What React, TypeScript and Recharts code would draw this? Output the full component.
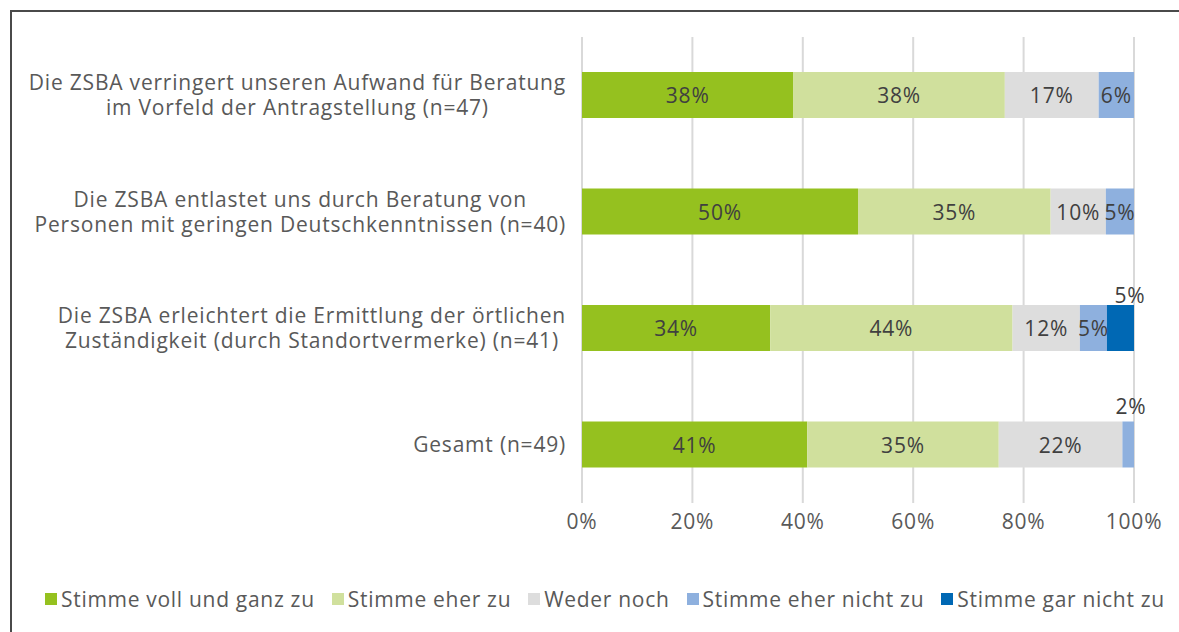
import { BarChart, Bar, XAxis, YAxis, CartesianGrid, LabelList } from 'recharts';

const categories = [
  'Die ZSBA verringert unseren Aufwand für Beratung\nim Vorfeld der Antragstellung (n=47)',
  'Die ZSBA entlastet uns durch Beratung von\nPersonen mit geringen Deutschkenntnissen (n=40)',
  'Die ZSBA erleichtert die Ermittlung der örtlichen\nZuständigkeit (durch Standortvermerke) (n=41)',
  'Gesamt (n=49)',
];

const vollZu = [38.3, 50.0, 34.1, 40.8];
const eherZu = [38.3, 34.9, 43.9, 34.7];
const wederNoch = [17.0, 10.0, 12.2, 22.4];
const eherNicht = [6.4, 5.1, 4.9, 2.1];
const garNicht = [0, 0, 4.9, 0];

const xTicks = [0, 20, 40, 60, 80, 100];

const series = [
  { key: 'vollZu', name: 'Stimme voll und ganz zu', color: '#95C11F' },
  { key: 'eherZu', name: 'Stimme eher zu', color: '#D0E09D' },
  { key: 'wederNoch', name: 'Weder noch', color: '#DDDDDD' },
  { key: 'eherNicht', name: 'Stimme eher nicht zu', color: '#8EB0DE' },
  { key: 'garNicht', name: 'Stimme gar nicht zu', color: '#0068B4' },
];

const data = categories.map((name, i) => ({
  name,
  vollZu: vollZu[i],
  eherZu: eherZu[i],
  wederNoch: wederNoch[i],
  eherNicht: eherNicht[i],
  garNicht: garNicht[i],
}));

const FONT = '"Open Sans", "Noto Sans", sans-serif';
const TEXT = '#595959';
const FS = 21;
const LS = 0.8;

function CategoryTick({ x, y, payload }: any) {
  return (
    <foreignObject x={x - 570} y={y - 30} width={570} height={60}>
      <div
        style={{
          width: 570,
          height: 60,
          display: 'flex',
          alignItems: 'center',
          justifyContent: 'flex-end',
        }}
      >
        <div
          style={{
            whiteSpace: 'pre-line',
            textAlign: 'center',
            fontFamily: FONT,
            fontSize: FS,
            letterSpacing: LS,
            lineHeight: '25px',
            color: TEXT,
          }}
        >
          {payload.value}
        </div>
      </div>
    </foreignObject>
  );
}

// small or last segments get their label above the bar end, like the original
function makeLabel(seriesKey: string) {
  return (props: any) => {
    const { x, y, width, height, value } = props;
    if (!value) return null;
    let cx = x + width / 2;
    let cy = y + height / 2;
    if (seriesKey === 'garNicht') {
      cx = x + width - 4;
      cy = y - 10;
    } else if (value < 3) {
      cx = x + width - 3;
      cy = y - 16;
    }
    return (
      <text
        x={cx}
        y={cy}
        textAnchor="middle"
        dominantBaseline="central"
        fontFamily={FONT}
        fontSize={FS}
        letterSpacing={LS}
        fill="#404040"
      >
        {Math.round(value)}%
      </text>
    );
  };
}

function XTick({ x, y, payload }: any) {
  return (
    <text
      x={x}
      y={y}
      dy="0.75em"
      textAnchor="middle"
      fontFamily={FONT}
      fontSize={FS}
      letterSpacing={LS}
      fill={TEXT}
    >
      {`${payload.value}%`}
    </text>
  );
}

export default function App() {
  return (
    <div
      style={{
        position: 'absolute',
        left: 0,
        top: 0,
        width: 1179,
        height: 632,
        background: '#fff',
        overflow: 'hidden',
      }}
    >
      <div
        style={{
          position: 'absolute',
          left: 10,
          top: 10,
          width: 1400,
          height: 800,
          borderTop: '2px solid #4a4a4a',
          borderLeft: '2px solid #4a4a4a',
        }}
      />
      <div style={{ position: 'absolute', left: 0, top: 0 }}>
        <BarChart
          width={1179}
          height={632}
          data={data}
          layout="vertical"
          margin={{ top: 37, right: 45, left: 0, bottom: 99 }}
          barSize={46}
        >
          <CartesianGrid horizontal={false} stroke="#D9D9D9" strokeWidth={2} />
          <XAxis
            type="number"
            domain={[0, 100]}
            ticks={xTicks}
            axisLine={false}
            tickLine={false}
            tickSize={0}
            tickMargin={10}
            height={30}
            tick={<XTick />}
          />
          <YAxis
            type="category"
            dataKey="name"
            width={582}
            axisLine={false}
            tickLine={false}
            tickSize={0}
            tickMargin={16}
            tick={<CategoryTick />}
          />
          {series.map((s) => (
            <Bar
              key={s.key}
              dataKey={s.key}
              name={s.name}
              stackId="a"
              fill={s.color}
              isAnimationActive={false}
            >
              <LabelList dataKey={s.key} content={makeLabel(s.key)} />
            </Bar>
          ))}
        </BarChart>
      </div>
      <div
        style={{
          position: 'absolute',
          left: 45,
          top: 585,
          display: 'flex',
          alignItems: 'center',
          fontFamily: FONT,
          fontSize: FS,
          letterSpacing: 0.7,
          color: TEXT,
          whiteSpace: 'nowrap',
        }}
      >
        {series.map((s) => (
          <div key={s.key} style={{ display: 'flex', alignItems: 'center', marginRight: 17 }}>
            <span
              style={{
                display: 'inline-block',
                width: 12,
                height: 12,
                background: s.color,
                marginRight: 4,
              }}
            />
            <span>{s.name}</span>
          </div>
        ))}
      </div>
    </div>
  );
}
